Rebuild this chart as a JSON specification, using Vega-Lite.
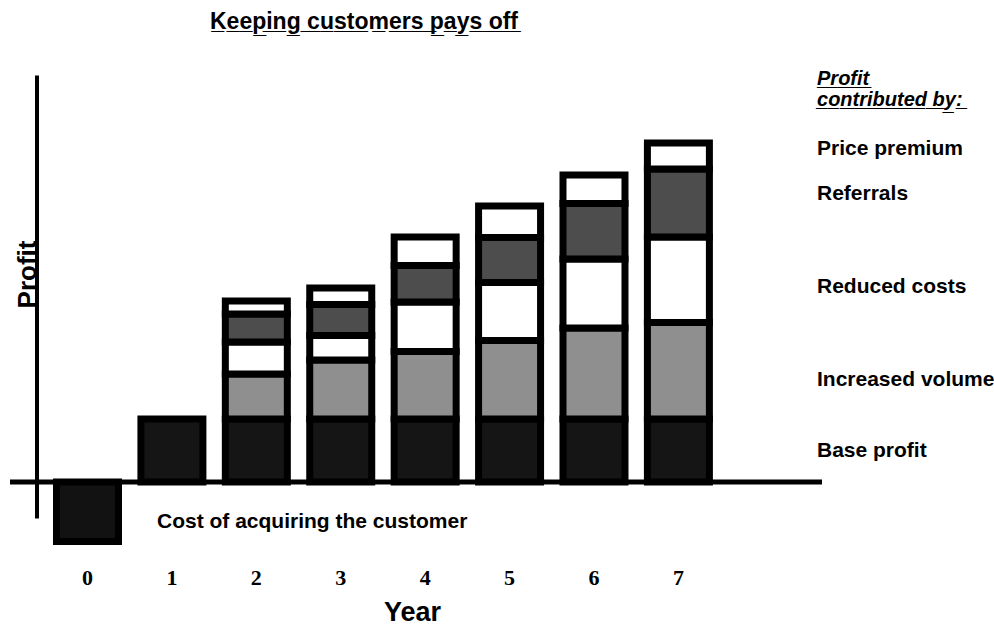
{
  "$schema": "https://vega.github.io/schema/vega-lite/v6.json",
  "width": 812,
  "height": 443,
  "autosize": {"type": "none"},
  "padding": {"left": 10, "top": 75, "right": 172, "bottom": 108},
  "background": "white",
  "config": {"view": {"stroke": null}, "font": "Liberation Sans"},
  "title": {
    "text": "K\u0332e\u0332e\u0332p\u0332i\u0332n\u0332g\u0332 \u0332c\u0332u\u0332s\u0332t\u0332o\u0332m\u0332e\u0332r\u0332s\u0332 \u0332p\u0332a\u0332y\u0332s\u0332 \u0332o\u0332f\u0332f\u0332",
    "font": "Liberation Sans",
    "fontSize": 23,
    "fontWeight": "bold",
    "color": "black",
    "anchor": "middle",
    "frame": "group",
    "dx": -52,
    "baseline": "alphabetic",
    "offset": 17
  },
  "datasets": {
    "bars": [
      {"year": 0, "component": "Cost of acquiring the customer", "value": -5.95, "ord": 0},
      {"year": 1, "component": "Base profit", "value": 6.3, "ord": 1},
      {"year": 2, "component": "Base profit", "value": 6.3, "ord": 1},
      {"year": 2, "component": "Increased volume", "value": 4.5, "ord": 2},
      {"year": 2, "component": "Reduced costs", "value": 3.2, "ord": 3},
      {"year": 2, "component": "Referrals", "value": 2.8, "ord": 4},
      {"year": 2, "component": "Price premium", "value": 1.3, "ord": 5},
      {"year": 3, "component": "Base profit", "value": 6.3, "ord": 1},
      {"year": 3, "component": "Increased volume", "value": 5.9, "ord": 2},
      {"year": 3, "component": "Reduced costs", "value": 2.45, "ord": 3},
      {"year": 3, "component": "Referrals", "value": 3.1, "ord": 4},
      {"year": 3, "component": "Price premium", "value": 1.65, "ord": 5},
      {"year": 4, "component": "Base profit", "value": 6.3, "ord": 1},
      {"year": 4, "component": "Increased volume", "value": 6.75, "ord": 2},
      {"year": 4, "component": "Reduced costs", "value": 4.95, "ord": 3},
      {"year": 4, "component": "Referrals", "value": 3.65, "ord": 4},
      {"year": 4, "component": "Price premium", "value": 2.85, "ord": 5},
      {"year": 5, "component": "Base profit", "value": 6.3, "ord": 1},
      {"year": 5, "component": "Increased volume", "value": 7.85, "ord": 2},
      {"year": 5, "component": "Reduced costs", "value": 5.8, "ord": 3},
      {"year": 5, "component": "Referrals", "value": 4.5, "ord": 4},
      {"year": 5, "component": "Price premium", "value": 3.15, "ord": 5},
      {"year": 6, "component": "Base profit", "value": 6.3, "ord": 1},
      {"year": 6, "component": "Increased volume", "value": 9.1, "ord": 2},
      {"year": 6, "component": "Reduced costs", "value": 6.9, "ord": 3},
      {"year": 6, "component": "Referrals", "value": 5.55, "ord": 4},
      {"year": 6, "component": "Price premium", "value": 2.85, "ord": 5},
      {"year": 7, "component": "Base profit", "value": 6.3, "ord": 1},
      {"year": 7, "component": "Increased volume", "value": 9.65, "ord": 2},
      {"year": 7, "component": "Reduced costs", "value": 8.55, "ord": 3},
      {"year": 7, "component": "Referrals", "value": 6.8, "ord": 4},
      {"year": 7, "component": "Price premium", "value": 2.6, "ord": 5}
    ],
    "labels": [
      {"year": 7, "label": "Price premium", "pos": 32.7},
      {"year": 7, "label": "Referrals", "pos": 28.2},
      {"year": 7, "label": "Reduced costs", "pos": 18.9},
      {"year": 7, "label": "Increased volume", "pos": 9.6},
      {"year": 7, "label": "Base profit", "pos": 2.5}
    ],
    "header": [
      {"year": 7, "label": "P\u0332r\u0332o\u0332f\u0332i\u0332t\u0332", "pos": 39.7},
      {"year": 7, "label": "c\u0332o\u0332n\u0332t\u0332r\u0332i\u0332b\u0332u\u0332t\u0332e\u0332d\u0332 \u0332b\u0332y\u0332:\u0332", "pos": 37.6}
    ],
    "cost": [
      {"year": 0, "label": "Cost of acquiring the customer", "pos": -4.6}
    ]
  },
  "layer": [
    {
      "data": {"name": "bars"},
      "mark": {"type": "bar", "stroke": "black", "strokeWidth": 7},
      "encoding": {
        "x": {
          "field": "year",
          "type": "ordinal",
          "title": "Year",
          "scale": {"domain": [0, 1, 2, 3, 4, 5, 6, 7], "range": [46.5, 699.4], "paddingInner": 0.2656, "paddingOuter": 0},
          "axis": {
            "orient": "bottom",
            "domain": false,
            "ticks": false,
            "tickSize": 0,
            "labelAngle": 0,
            "labelFont": "Liberation Serif",
            "labelFontSize": 22,
            "labelFontWeight": "bold",
            "labelColor": "black",
            "labelPadding": 59,
            "labelBaseline": "middle",
            "titleFont": "Liberation Sans",
            "titleFontSize": 27,
            "titleFontWeight": "bold",
            "titleColor": "black",
            "titleX": 402,
            "titleY": 102,
            "titleAlign": "center",
            "titleBaseline": "alphabetic",
            "titleAnchor": null
          }
        },
        "y": {
          "field": "value",
          "type": "quantitative",
          "stack": "zero",
          "title": "Profit",
          "scale": {"domain": [-3.6, 40.7], "nice": false, "zero": false},
          "axis": {
            "orient": "left",
            "offset": -26.5,
            "domain": true,
            "domainColor": "black",
            "domainWidth": 4,
            "ticks": false,
            "labels": false,
            "grid": false,
            "titleFont": "Liberation Sans",
            "titleFontSize": 26,
            "titleFontWeight": "bold",
            "titleColor": "black",
            "titleAngle": 270,
            "titleX": -1,
            "titleY": 199,
            "titleAlign": "center",
            "titleBaseline": "alphabetic"
          }
        },
        "color": {
          "field": "component",
          "type": "nominal",
          "legend": null,
          "scale": {
            "domain": ["Cost of acquiring the customer", "Base profit", "Increased volume", "Reduced costs", "Referrals", "Price premium"],
            "range": ["#121212", "#151515", "#8f8f8f", "#ffffff", "#4d4d4d", "#ffffff"]
          }
        },
        "order": {"field": "ord", "type": "quantitative"}
      }
    },
    {
      "data": {"values": [{}]},
      "mark": {"type": "rule", "color": "black", "strokeWidth": 5},
      "encoding": {"y": {"datum": 0}}
    },
    {
      "data": {"name": "labels"},
      "mark": {"type": "text", "align": "left", "baseline": "alphabetic", "dx": 138.6, "font": "Liberation Sans", "fontSize": 21, "fontWeight": "bold", "color": "black"},
      "encoding": {
        "x": {"field": "year", "type": "ordinal", "title": "Year"},
        "y": {"field": "pos", "type": "quantitative", "title": "Profit"},
        "text": {"field": "label"}
      }
    },
    {
      "data": {"name": "header"},
      "mark": {"type": "text", "align": "left", "baseline": "alphabetic", "dx": 138.6, "font": "Liberation Sans", "fontSize": 20, "fontWeight": "bold", "fontStyle": "italic", "color": "black"},
      "encoding": {
        "x": {"field": "year", "type": "ordinal", "title": "Year"},
        "y": {"field": "pos", "type": "quantitative", "title": "Profit"},
        "text": {"field": "label"}
      }
    },
    {
      "data": {"name": "cost"},
      "mark": {"type": "text", "align": "left", "baseline": "alphabetic", "dx": 69.5, "font": "Liberation Sans", "fontSize": 21, "fontWeight": "bold", "color": "black"},
      "encoding": {
        "x": {"field": "year", "type": "ordinal", "title": "Year"},
        "y": {"field": "pos", "type": "quantitative", "title": "Profit"},
        "text": {"field": "label"}
      }
    }
  ]
}
